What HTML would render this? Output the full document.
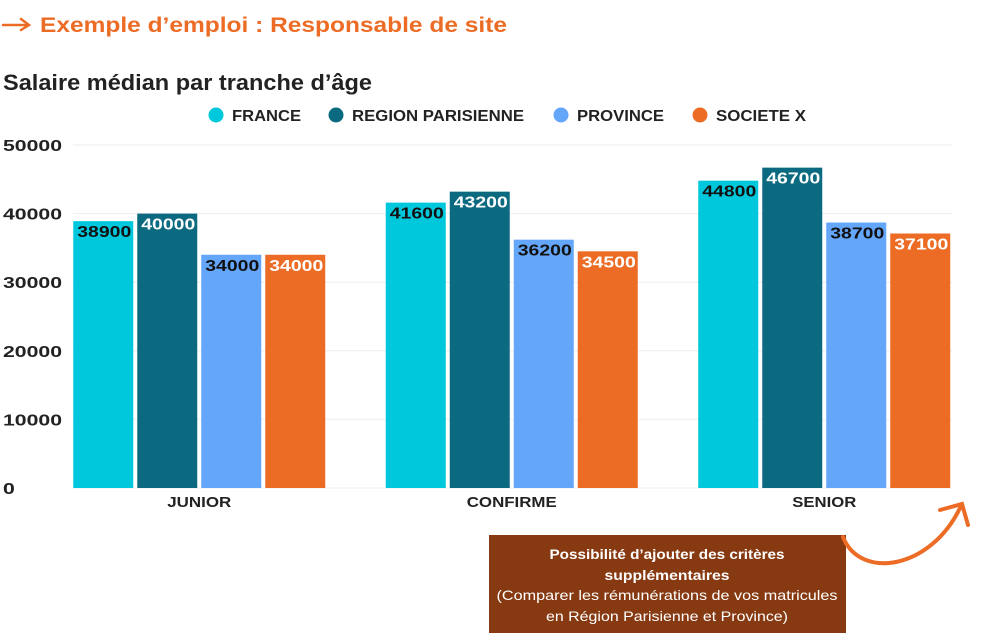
<!DOCTYPE html>
<html><head><meta charset="utf-8"><style>
body{margin:0;background:#fff;font-family:"Liberation Sans",sans-serif;}
svg text{font-family:"Liberation Sans",sans-serif;}
</style></head><body>
<svg width="986" height="638" viewBox="0 0 986 638">
<g stroke="#ec6c25" stroke-width="2.5" fill="none" stroke-linecap="round">
<line x1="3" y1="25" x2="28" y2="25"/><polyline points="21,19 29,25 21,30"/></g>
<text x="40" y="32" font-size="21" font-weight="bold" fill="#ec6c25" textLength="467" lengthAdjust="spacingAndGlyphs">Exemple d’emploi : Responsable de site</text>
<text x="3" y="90" font-size="22" font-weight="bold" fill="#222" textLength="369" lengthAdjust="spacingAndGlyphs">Salaire médian par tranche d’âge</text>
<g id="legend"></g>
<g id="grid"></g><g id="bars"></g>
<g>
<rect x="489" y="535" width="357" height="98" fill="#873a11"/>
<text x="667" y="559" text-anchor="middle" font-size="14" font-weight="bold" fill="#fff" textLength="235" lengthAdjust="spacingAndGlyphs">Possibilité d’ajouter des critères</text>
<text x="667" y="580" text-anchor="middle" font-size="14" font-weight="bold" fill="#fff" textLength="125" lengthAdjust="spacingAndGlyphs">supplémentaires</text>
<text x="667" y="600" text-anchor="middle" font-size="14" fill="#fff" textLength="341" lengthAdjust="spacingAndGlyphs">(Comparer les rémunérations de vos matricules</text>
<text x="667" y="621" text-anchor="middle" font-size="14" fill="#fff" textLength="242" lengthAdjust="spacingAndGlyphs">en Région Parisienne et Province)</text>
</g>
<g stroke="#ec6c25" stroke-width="4" fill="none" stroke-linecap="round">
<path d="M843,537 C860,580 930,570 960,508"/><polyline points="940,510 962,504 968,525"/></g>
</svg>
<script>
const categories=["JUNIOR","CONFIRME","SENIOR"];
const seriesNames=["FRANCE","REGION PARISIENNE","PROVINCE","SOCIETE X"];
const france=[38900,41600,44800];
const regionParisienne=[40000,43200,46700];
const province=[34000,36200,38700];
const societeX=[34000,34500,37100];
const yTicks=[0,10000,20000,30000,40000,50000];
const colors=["#00c8dc","#0b6a80","#64a6fa","#ec6c25"];
const labelColors=["#111","#fff","#111","#fff"];
const series=[france,regionParisienne,province,societeX];
const NS="http://www.w3.org/2000/svg";
const y0=488,y1=145,ymax=50000;
const ys=v=>y0-(v/ymax)*(y0-y1);
const band=312.5,xStart=43;
const xc=i=>xStart+band*(i+0.5);
function mk(t,a,p){const e=document.createElementNS(NS,t);for(const k in a)e.setAttribute(k,a[k]);p.appendChild(e);return e;}
const grid=document.getElementById('grid');
yTicks.forEach(v=>{
 const l=mk('line',{x1:73,x2:952,y1:ys(v),y2:ys(v),stroke:'#eee','stroke-width':1},grid);
 
 
 const s=String(v);
 const t=mk('text',{x:3,y:ys(v)+6,'font-size':15.5,'font-weight':'bold',fill:'#222',textLength:s.length*11.8,lengthAdjust:'spacingAndGlyphs'},grid);
 t.textContent=v;
 
 
});
const bars=document.getElementById('bars');
const catW=[64,90,64];
categories.forEach((c,i)=>{
 series.forEach((s,j)=>{
  const x=xc(i)-126+j*64;
  const r=mk('rect',{x:x,y:ys(s[i]),width:60,height:y0-ys(s[i]),fill:colors[j]},bars);
  
  
  const t=mk('text',{x:x+4,y:ys(s[i])+16,'font-size':15.5,'font-weight':'bold',fill:labelColors[j],textLength:54,lengthAdjust:'spacingAndGlyphs'},bars);
  t.textContent=s[i];
  
  
 });
 const t=mk('text',{x:xc(i),y:507,'text-anchor':'middle','font-size':15,'font-weight':'bold',fill:'#222',textLength:catW[i],lengthAdjust:'spacingAndGlyphs'},bars);
 t.textContent=c;
 
 
});
const leg=document.getElementById('legend');
const lx=[216,336,561,700];
const lw=[69,172,87,90];
seriesNames.forEach((n,j)=>{
 const g=mk('g',{},leg);
 
 
 mk('circle',{cx:lx[j],cy:115,r:7.5,fill:colors[j]},g);
 const t=mk('text',{x:lx[j]+16,y:121,'font-size':15.5,'font-weight':'bold',fill:'#222',textLength:lw[j],lengthAdjust:'spacingAndGlyphs'},g);
 t.textContent=n;
});
</script>
</body></html>
